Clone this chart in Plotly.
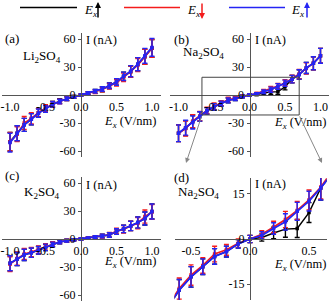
import plotly.graph_objects as go

W, H = 329, 304

# ---------------- data ----------------
E_full = [-1.0, -0.9, -0.8, -0.7, -0.6, -0.5, -0.4, -0.3, -0.2, -0.1, 0.0,
          0.1, 0.2, 0.3, 0.4, 0.5, 0.6, 0.7, 0.8, 0.9, 1.0]

# (a) Li2SO4
li_black = [-50, -41, -32, -26, -19, -14.5, -10, -6.5, -4, -2, 0, 2, 4, 6, 10, 14, 20, 25, 33, 41, 50]
li_red   = [-50, -42, -30, -25, -19, -14, -10, -7, -4, -2, 0, 2, 3.5, 6, 9.5, 13, 19, 25, 32, 41, 50]
li_blue  = [-51, -41, -32, -26, -19.5, -15, -10, -7, -4, -2, 0, 2, 4, 6.5, 10, 14, 20, 25.5, 33, 42, 51]
li_err   = [10, 8, 7, 6, 4.5, 3.5, 3, 2.5, 2, 1.5, 1, 1.5, 2, 2.5, 3, 3.5, 4.5, 6, 7, 8, 9.5]

# (b)/(d) Na2SO4
na_black = [-41, -35.5, -28.5, -23, -17, -12.6, -9.2, -5.8, -4.2, -1.6, 0, 0.5, 2, 3.3, 3.5, 8.8, 17, 22, 29, 34, 42]
na_red   = [-41, -36, -28, -22.5, -16.5, -12, -8.8, -5, -3.6, -1.4, 0, 1.6, 4, 6.5, 9.5, 13, 17.3, 22.5, 28.5, 34, 42]
na_blue  = [-41, -35, -29.5, -23, -17, -12.6, -9.2, -5.8, -4.2, -1.6, 0, 1.2, 3.5, 5.7, 9.2, 12.6, 17, 22, 29, 34, 42]
na_err   = [9, 8, 7, 5, 3.5, 3.4, 2.6, 2.6, 1.8, 1.4, 1.2, 1.2, 1.9, 2.7, 3, 3.3, 4, 5, 6, 7, 8]

# (c) K2SO4
k_black = [-26, -21.5, -17, -14.7, -12, -9, -5.8, -3.2, -1.8, -0.8, 0, 1, 2, 3.2, 4.3, 8, 10.8, 14, 17.6, 22, 29.5]
k_red   = [-27, -21, -16, -14, -11.5, -8.5, -5.5, -3, -1.8, -0.8, 0, 1, 2, 3, 4.5, 8.5, 10.5, 14, 17, 24, 29]
k_blue  = [-26, -21.5, -17, -14.7, -12, -9, -5.8, -3.2, -1.8, -0.8, 0, 1, 2, 3.2, 4.3, 8, 10.8, 14, 17.6, 22, 29.5]
k_err   = [8, 7, 6, 5, 4, 3.5, 2.5, 2, 1.5, 1, 1, 1, 1.5, 2, 2.5, 3, 4, 5, 6, 7, 8]

# ticks
big_xticks = [-1.0, -0.5, 0.0, 0.5, 1.0]
big_xtext = ["-1.0", "-0.5", "0.0", "0.5", "1.0"]
big_yticks = [-60, -30, 0, 30, 60]
big_ytext = ["-60", "-30", "0", "30", "60"]
zoom_xticks = [-0.5, 0.0, 0.5]
zoom_xtext = ["-0.5", "0.0", "0.5"]
zoom_yticks = [-15, 0, 15]
zoom_ytext = ["-15", "0", "15"]

# zoom box in (b)
zoom_box_x = [-0.67, 0.70]
zoom_box_y = [-21.4, 19]

BLACK = "#000000"
RED = "#f41c1c"
BLUE = "#2424f4"
FONT = "Liberation Serif"

# ------------- layout helpers (pixel -> paper) -------------
def px(x):
    return x / W

def py(y):
    return 1 - y / H

panels = {
    # name: (x pixel domain, y pixel domain (top,bottom), xrange, yrange, zero pixel x, zero pixel y)
    1: ([1.5, 160.5], [33.4, 156.6], [-1.12, 1.12], [-66, 66], 81, 95),
    2: ([170, 329], [33.4, 156.6], [-1.12, 1.12], [-66, 66], 249.5, 95),
    3: ([1.5, 160.5], [177.4, 300.6], [-1.12, 1.12], [-66, 66], 81, 239),
    4: ([174.5, 326.7], [178, 300], [-0.64, 0.65], [-20.3, 20.3], 250, 239),
}

fig = go.Figure()

def add_series(idx, ys, errs, color, width):
    xa = "x" if idx == 1 else f"x{idx}"
    ya = "y" if idx == 1 else f"y{idx}"
    fig.add_trace(go.Scatter(
        x=E_full, y=ys, xaxis=xa, yaxis=ya, mode="lines+markers",
        line=dict(color=color, width=width),
        marker=dict(symbol="square", size=3.5, color=color),
        error_y=dict(type="data", array=errs, visible=True, color=color, thickness=1.4, width=2.5),
        showlegend=False,
    ))

for idx, (b, r, bl, e) in {
    1: (li_black, li_red, li_blue, li_err),
    2: (na_black, na_red, na_blue, na_err),
    3: (k_black, k_red, k_blue, k_err),
    4: (na_black, na_red, na_blue, na_err),
}.items():
    add_series(idx, b, e, BLACK, 1.4)
    add_series(idx, r, e, RED, 1.6)
    add_series(idx, bl, e, BLUE, 1.8)

layout = dict(
    width=W, height=H, margin=dict(l=0, r=0, t=0, b=0, pad=0), autosize=False,
    paper_bgcolor="white", plot_bgcolor="rgba(0,0,0,0)",
    font=dict(family=FONT, size=12, color="black"),
    showlegend=False,
)

for idx, (xd, yd, xr, yr, zx, zy) in panels.items():
    xk = "xaxis" if idx == 1 else f"xaxis{idx}"
    yk = "yaxis" if idx == 1 else f"yaxis{idx}"
    small = idx == 4
    layout[xk] = dict(
        domain=[px(xd[0]), px(xd[1])], range=xr, anchor="free", position=py(zy),
        automargin=False,
        showline=True, linecolor="#555", linewidth=1, showgrid=False, zeroline=False,
        ticks="", ticklabelstandoff=1,
        tickvals=zoom_xticks if small else big_xticks,
        ticktext=zoom_xtext if small else big_xtext,
        tickfont=dict(family=FONT, size=12, color="black"),
    )
    layout[yk] = dict(
        domain=[py(yd[1]), py(yd[0])], range=yr, anchor="free", position=px(zx),
        automargin=False,
        showline=True, linecolor="#555", linewidth=1, showgrid=False, zeroline=False,
        ticks="outside", ticklen=3, tickcolor="#555",
        tickvals=zoom_yticks if small else big_yticks,
        ticktext=zoom_ytext if small else big_ytext,
        tickfont=dict(family=FONT, size=12, color="black"),
    )

fig.update_layout(**layout)

def text(xp, ypix, s, size=13, xanchor="center"):
    fig.add_annotation(x=px(xp), y=py(ypix), xref="paper", yref="paper", text=s,
                       showarrow=False, xanchor=xanchor, yanchor="middle",
                       font=dict(family=FONT, size=size, color="black"))

# panel labels
text(3, 39, "(a)", 13, "left")
text(42, 56, "Li<sub>2</sub>SO<sub>4</sub>", 13)
text(172, 40, "(b)", 13, "left")
text(203, 53, "Na<sub>2</sub>SO<sub>4</sub>", 13)
text(3, 175, "(c)", 13, "left")
text(42, 193, "K<sub>2</sub>SO<sub>4</sub>", 13)
text(172, 177, "(d)", 13, "left")
text(198, 193, "Na<sub>2</sub>SO<sub>4</sub>", 13)

# axis titles
for (yx, yy, ex, ey) in [(84, 40, 157, 122), (253, 40, 327, 123), (84, 185, 157, 262), (253, 184, 327, 265)]:
    text(yx, yy, "I (nA)", 12.5, "left")
    fig.add_annotation(x=px(ex), y=py(ey), xref="paper", yref="paper",
                       text="<i>E<sub>x</sub></i> (V/nm)", showarrow=False,
                       xanchor="right", yanchor="middle", borderpad=0,
                       font=dict(family=FONT, size=12.5, color="black"))

# zoom box and connectors
fig.add_shape(type="rect", xref="x2", yref="y2", x0=zoom_box_x[0], x1=zoom_box_x[1],
              y0=zoom_box_y[0], y1=zoom_box_y[1], line=dict(color="#444", width=1))
for (hx, hy, tx, ty) in [(186, 163, 202, 115), (322, 163, 299, 115)]:
    fig.add_annotation(x=px(hx), y=py(hy), xref="paper", yref="paper", text="",
                       showarrow=True, ax=tx - hx, ay=ty - hy, axref="pixel", ayref="pixel",
                       arrowhead=2, arrowsize=1, arrowwidth=1, arrowcolor="#888")

# legend
for (x0, x1, lx, ax_, color, up) in [(20, 77, 82, 98, BLACK, True),
                                      (124, 180, 185, 202, RED, False),
                                      (229, 285, 289, 307, BLUE, True)]:
    fig.add_shape(type="line", xref="paper", yref="paper", x0=px(x0), x1=px(x1),
                  y0=py(7.5), y1=py(7.5), line=dict(color=color, width=1.5))
    text(lx, 10, "<i>E<sub>x</sub></i>", 13, "left")
    if up:
        fig.add_annotation(x=px(ax_), y=py(2), xref="paper", yref="paper", text="",
                           showarrow=True, ax=0, ay=17, arrowhead=2, arrowsize=0.8,
                           arrowwidth=1.5, arrowcolor=color)
    else:
        fig.add_annotation(x=px(ax_), y=py(19), xref="paper", yref="paper", text="",
                           showarrow=True, ax=0, ay=-17, arrowhead=2, arrowsize=0.8,
                           arrowwidth=1.5, arrowcolor=color)

fig.write_html("out.html", config={"displayModeBar": False},
               post_script="document.body.style.margin='0';document.body.style.overflow='hidden';")
